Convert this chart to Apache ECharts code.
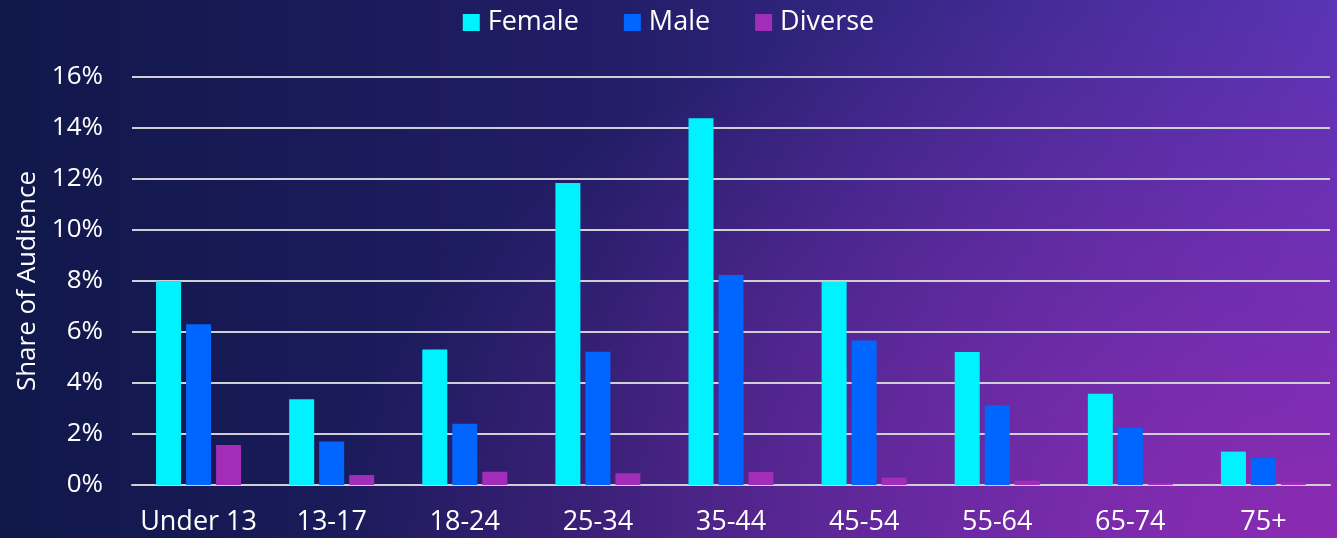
<!DOCTYPE html>
<html>
<head>
<meta charset="utf-8">
<script src="https://cdn.jsdelivr.net/npm/echarts@6/dist/echarts.min.js"></script>
<style>
  html, body { margin: 0; padding: 0; }
  #chart {
    width: 1337px;
    height: 538px;
    background:
      radial-gradient(ellipse 75% 110% at 100% 100%, rgba(142, 42, 178, 0.95) 0%, rgba(142, 42, 178, 0) 100%),
      linear-gradient(to right, #10184a 0%, #221d66 45%, #5535b5 100%);
  }
</style>
</head>
<body>
<div id="chart"></div>
<script>
// age groups on the x axis
const categories = ['Under 13', '13-17', '18-24', '25-34', '35-44', '45-54', '55-64', '65-74', '75+']
// share of audience, percent
const female = [8.0, 3.36, 5.31, 11.84, 14.38, 7.97, 5.22, 3.58, 1.31]
const male = [6.30, 1.71, 2.40, 5.23, 8.24, 5.67, 3.12, 2.24, 1.07]
const diverse = [1.57, 0.39, 0.52, 0.46, 0.51, 0.29, 0.17, 0.08, 0.1]
const yTicks = [0, 2, 4, 6, 8, 10, 12, 14, 16]

const fontFamily = '"Open Sans", sans-serif'
const chart = echarts.init(document.getElementById('chart'))

const makeBar = (name, data, color) => ({
  name,
  type: 'bar',
  data,
  barWidth: 25,
  barGap: '20%',
  itemStyle: { color },
  emphasis: { disabled: true }
})

chart.setOption({
  backgroundColor: 'transparent',
  animation: false,
  legend: {
    top: 4,
    left: 'center',
    icon: 'rect',
    itemWidth: 17,
    itemHeight: 17,
    itemGap: 45,
    textStyle: {
      color: '#ffffff',
      fontSize: 27,
      fontFamily,
      padding: [0, 0, 0, 3]
    },
    data: ['Female', 'Male', 'Diverse']
  },
  grid: {
    left: 132,
    right: 7,
    top: 77,
    bottom: 53,
    outerBoundsMode: 'none'
  },
  xAxis: {
    type: 'category',
    data: categories,
    axisLine: { lineStyle: { color: '#cfcfd6', width: 2 } },
    axisTick: { show: false },
    axisLabel: {
      color: '#ffffff',
      fontSize: 27,
      fontFamily,
      margin: 24,
      interval: 0
    }
  },
  yAxis: {
    type: 'value',
    min: yTicks[0],
    max: yTicks[yTicks.length - 1],
    interval: 2,
    name: 'Share of Audience',
    nameLocation: 'middle',
    nameRotate: 90,
    nameGap: 89,
    nameTextStyle: {
      color: '#ffffff',
      fontSize: 26,
      fontFamily
    },
    axisLine: { show: false },
    axisTick: { show: false },
    axisLabel: {
      color: '#ffffff',
      fontSize: 26,
      fontFamily,
      margin: 29,
      formatter: '{value}%'
    },
    splitLine: {
      lineStyle: { color: '#cfcfd6', width: 2 }
    }
  },
  series: [
    makeBar('Female', female, '#00f2ff'),
    makeBar('Male', male, '#0066ff'),
    makeBar('Diverse', diverse, '#a12db8')
  ]
})
</script>
</body>
</html>
